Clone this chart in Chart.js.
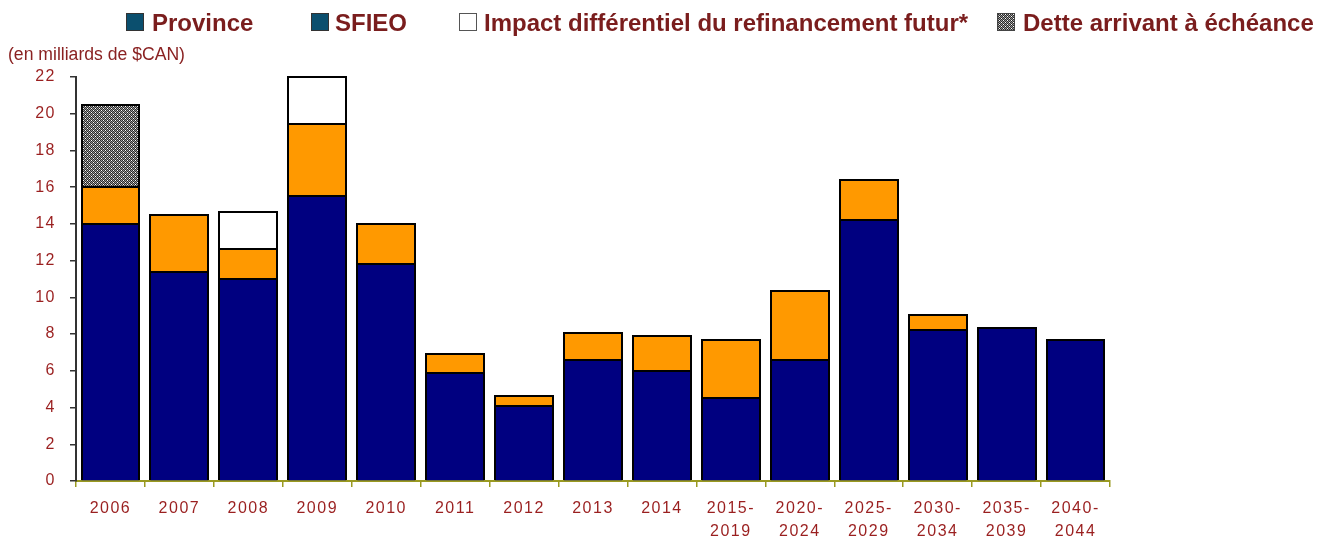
<!DOCTYPE html>
<html>
<head>
<meta charset="utf-8">
<script src="https://cdn.jsdelivr.net/npm/chart.js@4.4.1/dist/chart.umd.min.js"></script>
<style>
  html, body { margin: 0; padding: 0; background: #ffffff; }
  #wrap { width: 1319px; height: 537px; position: relative; }
</style>
</head>
<body>
<div id="wrap"><canvas id="c" width="1319" height="537"></canvas></div>
<script>
const categories = [
  "2006", "2007", "2008", "2009", "2010", "2011", "2012", "2013", "2014",
  ["2015-", "2019"], ["2020-", "2024"], ["2025-", "2029"],
  ["2030-", "2034"], ["2035-", "2039"], ["2040-", "2044"]
];
const provinceValues = [14.0, 11.4, 11.0, 15.5, 11.8, 5.9, 4.1, 6.6, 6.0, 4.5, 6.6, 14.2, 8.2, 8.35, 7.7];
const sfieoValues    = [2.0, 3.1, 1.65, 3.95, 2.2, 1.0, 0.55, 1.45, 1.9, 3.2, 3.75, 2.2, 0.85, null, null];
const impactValues   = [null, null, 2.0, 2.55, null, null, null, null, null, null, null, null, null, null, null];
const detteValues    = [4.45, null, null, null, null, null, null, null, null, null, null, null, null, null, null];
const yTicks = [0, 2, 4, 6, 8, 10, 12, 14, 16, 18, 20, 22];
const legendLabels = ["Province", "SFIEO", "Impact différentiel du refinancement futur*", "Dette arrivant à échéance"];
const yUnitLabel = "(en milliards de $CAN)";

function makePattern() {
  const p = document.createElement('canvas');
  p.width = 4; p.height = 4;
  const g = p.getContext('2d');
  g.fillStyle = '#999999';
  g.fillRect(0, 0, 4, 4);
  g.fillStyle = '#2a2a2a';
  g.fillRect(0, 0, 1, 1); g.fillRect(2, 0, 1, 1); g.fillRect(1, 1, 1, 1); g.fillRect(3, 1, 1, 1);
  g.fillRect(0, 2, 1, 1); g.fillRect(2, 2, 1, 1); g.fillRect(1, 3, 1, 1); g.fillRect(3, 3, 1, 1);
  g.fillStyle = '#ffffff';
  g.fillRect(1, 2, 1, 1); g.fillRect(3, 0, 1, 1);
  return document.getElementById('c').getContext('2d').createPattern(p, 'repeat');
}
const greyPattern = makePattern();

const legendTextColor = '#7a1d1d';
const tickColor = '#9a1f1f';

const spacingPlugin = {
  id: 'tickSpacing',
  beforeDraw(chart) { chart.ctx.letterSpacing = '1.5px'; },
  beforeDatasetsDraw(chart) { chart.ctx.letterSpacing = '0px'; }
};

// Crisp black outlines on the bar elements computed by Chart.js
const outlinePlugin = {
  id: 'barOutline',
  afterDatasetsDraw(chart) {
    const ctx = chart.ctx;
    ctx.save();
    ctx.strokeStyle = '#000000';
    ctx.lineWidth = 2;
    chart.data.datasets.forEach((ds, i) => {
      const meta = chart.getDatasetMeta(i);
      meta.data.forEach((el, j) => {
        if (ds.data[j] == null) return;
        const p = el.getProps(['x', 'y', 'base', 'width'], true);
        const l = Math.round(p.x - p.width / 2);
        const r = Math.round(p.x + p.width / 2);
        const t = Math.round(p.y);
        const b = Math.round(p.base);
        ctx.beginPath();
        ctx.moveTo(l, b);
        ctx.lineTo(l, t);
        ctx.lineTo(r, t);
        ctx.lineTo(r, b);
        ctx.stroke();
      });
    });
    ctx.restore();
  }
};

const legendPlugin = {
  id: 'customLegend',
  afterDraw(chart) {
    const ctx = chart.ctx;
    ctx.save();
    ctx.letterSpacing = '0px';
    const items = [
      { box: 126, text: 152, fill: '#0b4f6e', border: '#333333' },
      { box: 311, text: 335, fill: '#0b4f6e', border: '#333333' },
      { box: 459, text: 484, fill: '#ffffff', border: '#555555' },
      { box: 997, text: 1023, fill: greyPattern, border: '#444444' }
    ];
    items.forEach((it, i) => {
      ctx.fillStyle = it.fill;
      ctx.fillRect(it.box, 13, 18, 18);
      ctx.strokeStyle = it.border;
      ctx.lineWidth = 1;
      ctx.strokeRect(it.box + 0.5, 13.5, 17, 17);
      ctx.fillStyle = legendTextColor;
      ctx.font = 'bold 24px "Liberation Sans", Arial, sans-serif';
      ctx.textBaseline = 'alphabetic';
      ctx.textAlign = 'left';
      ctx.fillText(legendLabels[i], it.text, 31);
    });
    ctx.font = '17.6px "Liberation Sans", Arial, sans-serif';
    ctx.fillStyle = '#8a2222';
    ctx.fillText(yUnitLabel, 8, 60);
    ctx.restore();
  }
};

const barCommon = {
  borderWidth: 0,
  inflateAmount: 0,
  barPercentage: 0.84,
  categoryPercentage: 1.0
};

new Chart(document.getElementById('c'), {
  type: 'bar',
  data: {
    labels: categories,
    datasets: [
      Object.assign({ label: legendLabels[0], data: provinceValues, backgroundColor: '#000080' }, barCommon),
      Object.assign({ label: legendLabels[1], data: sfieoValues, backgroundColor: '#ff9900' }, barCommon),
      Object.assign({ label: legendLabels[2], data: impactValues, backgroundColor: '#ffffff' }, barCommon),
      Object.assign({ label: legendLabels[3], data: detteValues, backgroundColor: greyPattern }, barCommon)
    ]
  },
  options: {
    responsive: false,
    animation: false,
    layout: { padding: { top: 77, right: 209, left: 0, bottom: 0 } },
    plugins: {
      legend: { display: false },
      tooltip: { enabled: false }
    },
    scales: {
      x: {
        stacked: true,
        offset: true,
        grid: {
          display: true,
          offset: true,
          drawOnChartArea: false,
          drawTicks: true,
          tickLength: 6,
          color: '#9a9a20',
          lineWidth: 1.5
        },
        border: { display: true, color: '#9a9a20', width: 2 },
        ticks: {
          color: tickColor,
          font: { family: '"Liberation Sans", Arial, sans-serif', size: 16, lineHeight: 1.45 },
          padding: 10,
          maxRotation: 0,
          autoSkip: false
        },
        afterFit(scale) { scale.height = 56; }
      },
      y: {
        stacked: true,
        min: 0,
        max: 22,
        afterBuildTicks(scale) { scale.ticks = yTicks.map(v => ({ value: v })); },
        grid: {
          display: true,
          drawOnChartArea: false,
          drawTicks: true,
          tickLength: 6,
          color: '#333333',
          lineWidth: 1.5
        },
        border: { display: true, color: '#333333', width: 2 },
        ticks: {
          color: tickColor,
          font: { family: '"Liberation Sans", Arial, sans-serif', size: 16 },
          padding: 14
        },
        afterFit(scale) { scale.width = 76; }
      }
    }
  },
  plugins: [spacingPlugin, outlinePlugin, legendPlugin]
});
</script>
</body>
</html>
